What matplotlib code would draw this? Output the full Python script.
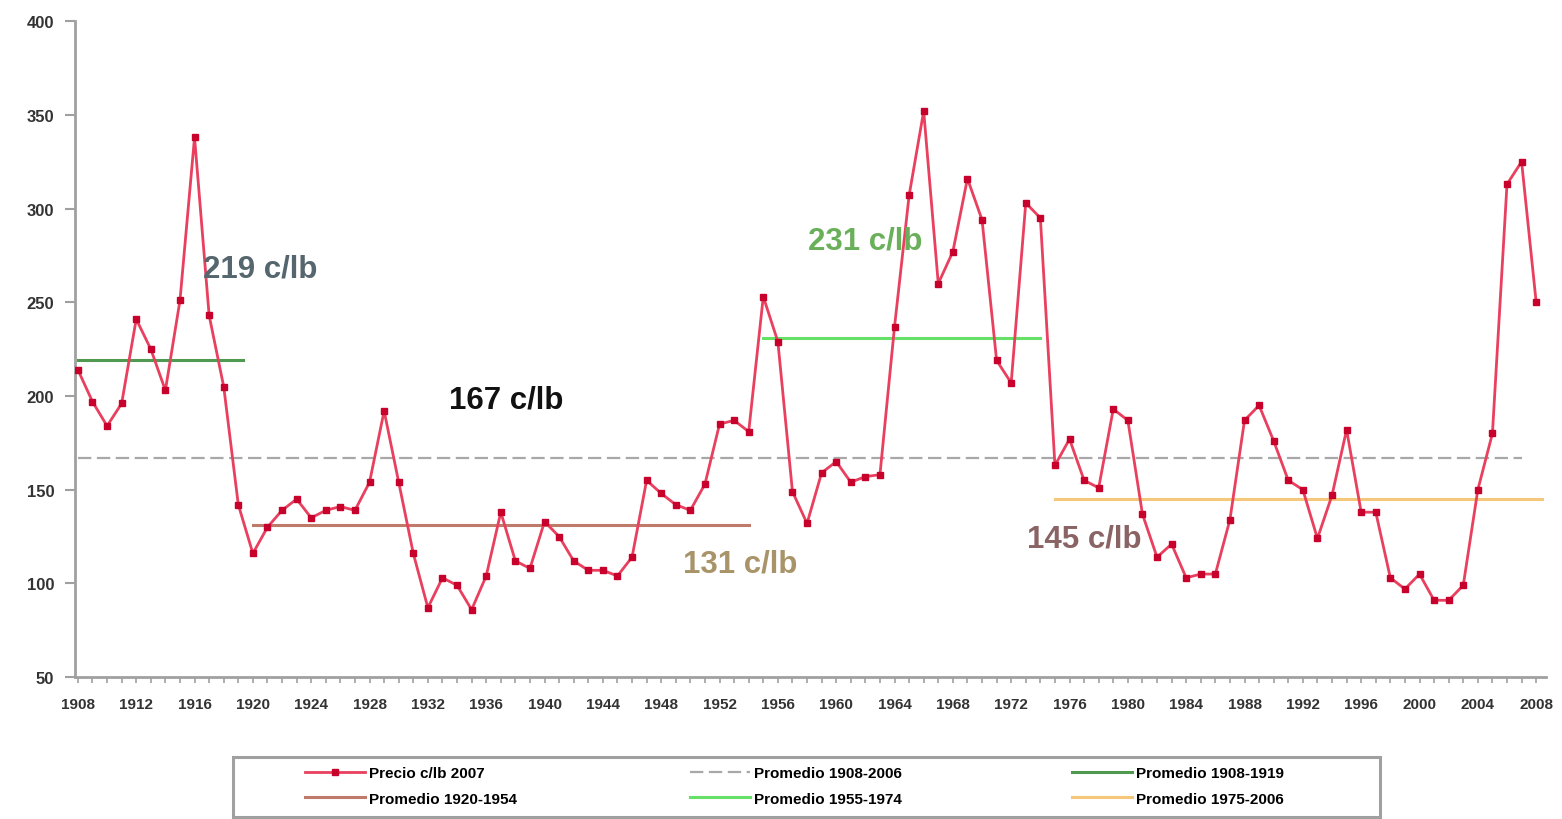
import matplotlib
matplotlib.use("Agg")
import matplotlib.pyplot as plt
from matplotlib.lines import Line2D
from matplotlib.patches import Rectangle
import numpy as np

# ---------------- data ----------------
years = list(range(1908, 2009))
prices = [214, 197, 184, 196, 241, 225, 203, 251, 338, 243,   # 1908-1917
          205, 142, 116, 130, 139, 145, 135, 139, 141, 139,   # 1918-1927
          154, 192, 154, 116, 87, 103, 99, 86, 104, 138,      # 1928-1937
          112, 108, 133, 125, 112, 107, 107, 104, 114, 155,   # 1938-1947
          148, 142, 139, 153, 185, 187, 181, 253, 229, 149,   # 1948-1957
          132, 159, 165, 154, 157, 158, 237, 307, 352, 260,   # 1958-1967
          277, 316, 294, 219, 207, 303, 295, 163, 177, 155,   # 1968-1977
          151, 193, 187, 137, 114, 121, 103, 105, 105, 134,   # 1978-1987
          187, 195, 176, 155, 150, 124, 147, 182, 138, 138,   # 1988-1997
          103, 97, 105, 91, 91, 99, 150, 180, 313, 325,       # 1998-2007
          250]                                                # 2008

avg_labels = ["Promedio 1908-2006", "Promedio 1908-1919", "Promedio 1920-1954",
              "Promedio 1955-1974", "Promedio 1975-2006"]
avg_values = [167, 219, 131, 231, 145]
avg_start = [1908, 1908, 1920, 1955, 1975]
avg_end = [2007, 1919.3, 1954, 1974, 2008.4]
avg_text = ["167 c/lb", "219 c/lb", "131 c/lb", "231 c/lb", "145 c/lb"]
series_label = "Precio c/lb 2007"

y_ticks = [50, 100, 150, 200, 250, 300, 350, 400]
x_ticks = list(range(1908, 2009, 4))

# ---------------- styles ----------------
avg_colors = ["#a8a8a8", "#4f9a50", "#c07a6a", "#66e066", "#f5c77a"]
avg_styles = [(0, (6, 2.5)), "-", "-", "-", "-"]
avg_lw = [1.6, 2.2, 2.2, 2.2, 2.2]
text_colors = ["#111111", "#56666e", "#a89468", "#6ab05a", "#8a6464"]
text_pos = [(1937.4, 198), (1920.5, 268), (1953.4, 110.6), (1962.0, 283), (1977.0, 124)]

BOLD = dict(family=["Liberation Sans", "DejaVu Sans"], weight="bold")

fig = plt.figure(figsize=(15.62, 8.2), dpi=100)
ax = fig.add_axes([0.048, 0.173, 0.942, 0.80])

for v, s, e, c, ls, lw in zip(avg_values, avg_start, avg_end, avg_colors, avg_styles, avg_lw):
    ax.plot([s, e], [v, v], color=c, linestyle=ls, lw=lw, zorder=2)

ax.plot(years, prices, color="#e8405e", lw=2.0, marker="s", markersize=4.4,
        markerfacecolor="#c8002c", markeredgecolor="#c8002c", zorder=3)

for t, (tx, ty), c in zip(avg_text, text_pos, text_colors):
    ax.text(tx, ty, t, ha="center", va="center", fontsize=22.5, color=c, zorder=4, **BOLD)

ax.set_xlim(1907.8, 2008.7)
ax.set_ylim(50, 400)
ax.set_yticks(y_ticks)
ax.set_xticks(x_ticks)
ax.set_xticks(years, minor=True)

for side in ["top", "right"]:
    ax.spines[side].set_visible(False)
for side in ["left", "bottom"]:
    ax.spines[side].set_color("#a0a0a0")
    ax.spines[side].set_linewidth(2.0)

ax.tick_params(axis="y", which="major", length=7, width=1.5, color="#a0a0a0", pad=8,
               labelsize=12, labelcolor="#333333")
ax.tick_params(axis="x", which="both", length=4.5, width=1.2, color="#a0a0a0", pad=10,
               labelsize=11, labelcolor="#333333")
for lab in ax.get_xticklabels() + ax.get_yticklabels():
    lab.set_fontweight("bold")
    lab.set_family(["Liberation Sans", "DejaVu Sans"])

# ---------------- legend ----------------
fig.patches.append(Rectangle((233 / 1562, 1 - 818 / 820), (1380 - 233) / 1562, 60 / 820,
                             transform=fig.transFigure, fill=False,
                             edgecolor="#a0a0a0", lw=2.2))

h_price = Line2D([], [], color="#e8405e", lw=2.0, marker="s", markersize=4.4,
                 markerfacecolor="#c8002c", markeredgecolor="#c8002c")
h_avg = [Line2D([], [], color=c, linestyle=ls, lw=lw)
         for c, ls, lw in zip(avg_colors, avg_styles, avg_lw)]

columns = [([h_price, h_avg[2]], [series_label, avg_labels[2]]),
           ([h_avg[0], h_avg[3]], [avg_labels[0], avg_labels[3]]),
           ([h_avg[1], h_avg[4]], [avg_labels[1], avg_labels[4]])]
col_x = [305, 690, 1072]
for (hs, ls_), cx in zip(columns, col_x):
    fig.legend(hs, ls_, loc="center left", bbox_to_anchor=(cx / 1562, 1 - 787 / 820),
               frameon=False, ncol=1, handlelength=3.9, handletextpad=0.3,
               labelspacing=0.75, borderpad=0, borderaxespad=0,
               prop=dict(family=["Liberation Sans", "DejaVu Sans"], weight="bold", size=11))

fig.savefig("out.png", dpi=100, facecolor="white")
